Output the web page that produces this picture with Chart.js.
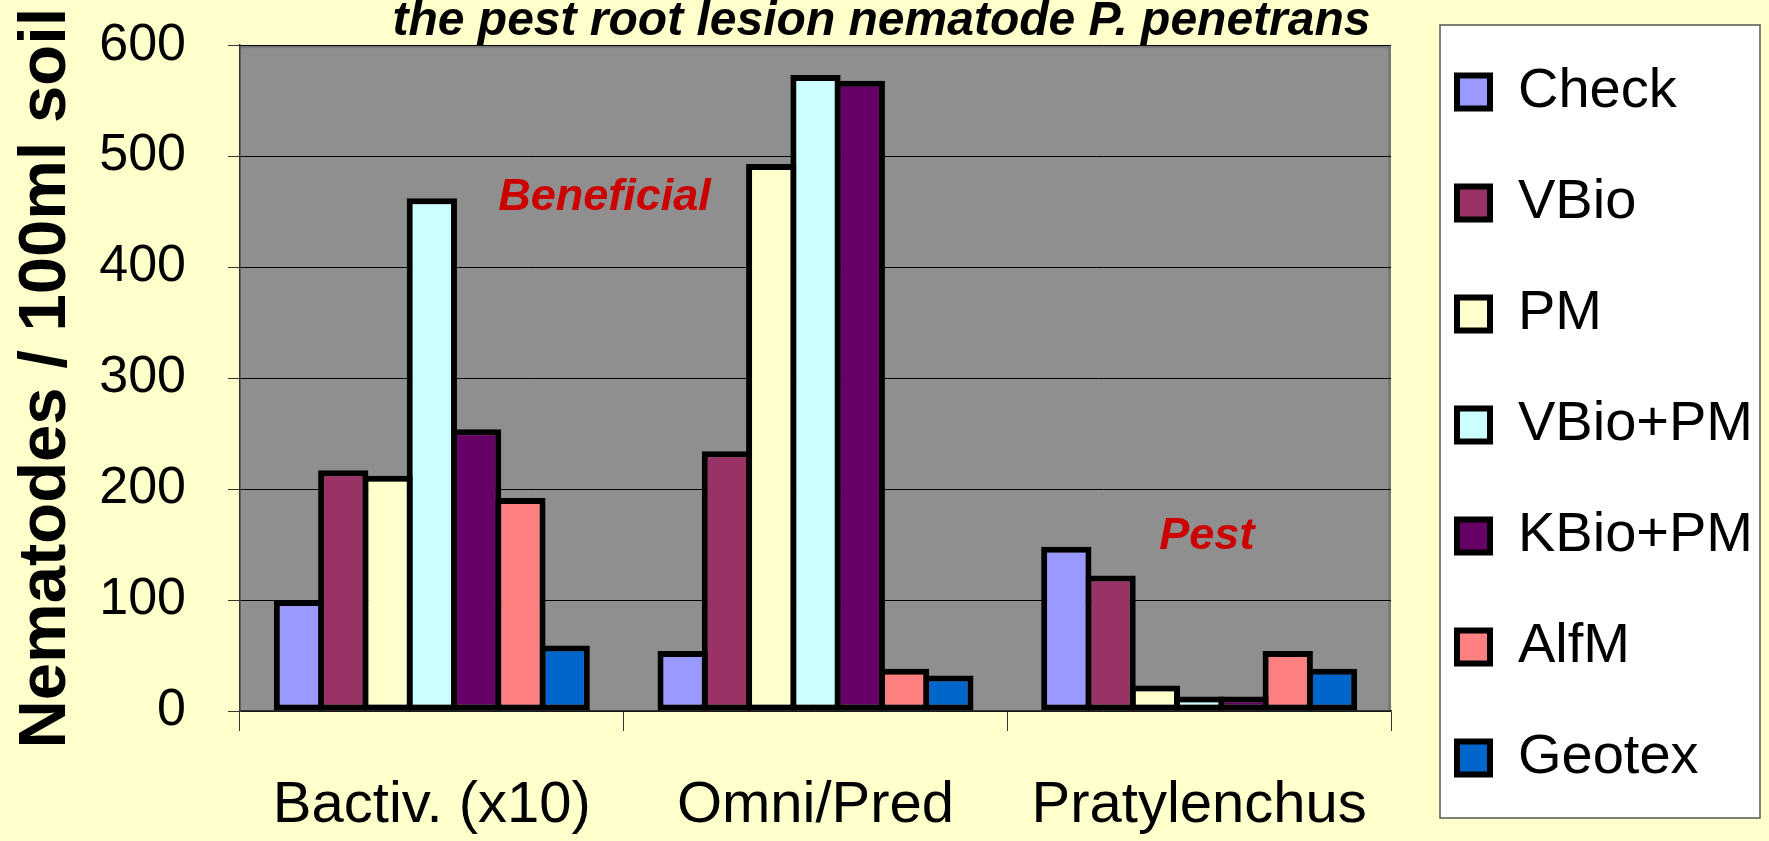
<!DOCTYPE html>
<html>
<head>
<meta charset="utf-8">
<title>Nematodes / 100ml soil</title>
<script src="https://cdn.jsdelivr.net/npm/chart.js@4.4.1/dist/chart.umd.min.js"></script>
<style>
  html, body { margin: 0; padding: 0; background: #FFFFCC; }
  #wrap { width: 1769px; height: 841px; position: relative; }
</style>
</head>
<body>
<div id="wrap"><canvas id="nematodeChart"></canvas></div>
<script>
// Categories along the x axis
const categories = ['Bactiv. (x10)', 'Omni/Pred', 'Pratylenchus'];

// Treatments, one series each
const treatments = ['Check', 'VBio', 'PM', 'VBio+PM', 'KBio+PM', 'AlfM', 'Geotex'];
const treatmentColors = ['#9999FF', '#993366', '#FFFFCC', '#CCFFFF', '#660066', '#FF8080', '#0066CC'];

// Nematodes / 100ml soil
const checkValues  = [100, 54, 148];
const vbioValues   = [217, 234, 122];
const pmValues     = [212, 493, 23];
const vbioPmValues = [462, 573, 13];
const kbioPmValues = [254, 568, 13];
const alfmValues   = [192, 38, 54];
const geotexValues = [59, 32, 38];

const seriesValues = [checkValues, vbioValues, pmValues, vbioPmValues, kbioPmValues, alfmValues, geotexValues];

// y axis tick labels
const yTicks = [0, 100, 200, 300, 400, 500, 600];

// Notes written inside the plot (category position, y value)
const noteTexts = ['Beneficial', 'Pest'];
const noteCategoryPos = [0.45, 2.02];
const noteValues = [463, 157];

const sansFont = '"Liberation Sans", Arial, sans-serif';

// grey plot area and white legend box
const backdrop = {
    id: 'backdrop',
    beforeDraw(chart) {
        const { ctx, chartArea: a, legend } = chart;
        ctx.save();
        ctx.fillStyle = '#FFFFCC';
        ctx.fillRect(0, 0, chart.width, chart.height);

        ctx.fillStyle = '#8F8F8F';
        ctx.fillRect(a.left, a.top, a.right - a.left, a.bottom - a.top);
        ctx.strokeStyle = '#787878';
        ctx.lineWidth = 3;
        ctx.beginPath();
        ctx.moveTo(a.left, a.top + 1.5);
        ctx.lineTo(a.right - 1.5, a.top + 1.5);
        ctx.lineTo(a.right - 1.5, a.bottom);
        ctx.stroke();

        // legend frame
        const lx = legend.left + 38;
        const ly = 25;
        const lw = chart.width - 9 - lx;
        const lh = chart.height - 23 - ly;
        ctx.fillStyle = '#FFFFFF';
        ctx.fillRect(lx, ly, lw, lh);
        ctx.strokeStyle = '#555555';
        ctx.lineWidth = 1.5;
        ctx.strokeRect(lx, ly, lw, lh);
        ctx.restore();
    }
};

// red "Beneficial" / "Pest" notes
const notes = {
    id: 'notes',
    afterDatasetsDraw(chart) {
        const { ctx, scales: { x, y } } = chart;
        ctx.save();
        ctx.font = 'italic bold 45px ' + sansFont;
        ctx.fillStyle = '#CC0000';
        ctx.textAlign = 'center';
        ctx.textBaseline = 'middle';
        noteTexts.forEach((t, i) => {
            ctx.fillText(t, x.getPixelForValue(noteCategoryPos[i]), y.getPixelForValue(noteValues[i]));
        });
        ctx.restore();
    }
};

const datasets = treatments.map((name, i) => ({
    label: name,
    data: seriesValues[i],
    backgroundColor: treatmentColors[i],
    borderColor: '#000000',
    borderWidth: 6,
    borderSkipped: false
}));

new Chart(document.getElementById('nematodeChart'), {
    type: 'bar',
    data: { labels: categories, datasets: datasets },
    plugins: [backdrop, notes],
    options: {
        responsive: true,
        maintainAspectRatio: false,
        animation: false,
        layout: { padding: { right: 6 } },
        // bars overlap by one border width so neighbours share a single black edge
        datasets: { bar: { categoryPercentage: 0.808, barPercentage: 1.135 } },
        plugins: {
            title: {
                display: true,
                text: 'the pest root lesion nematode P. penetrans',
                color: '#000000',
                font: { family: sansFont, size: 48, style: 'italic', weight: 'bold', lineHeight: 0.92 },
                padding: { top: 0, bottom: 1 }
            },
            legend: {
                position: 'right',
                align: 'center',
                maxWidth: 420,
                title: { display: true, text: '', padding: 4, font: { size: 1, lineHeight: 1 } },
                labels: {
                    color: '#000000',
                    font: { family: sansFont, size: 56 },
                    boxWidth: 33,
                    boxHeight: 33,
                    padding: 55
                }
            },
            tooltip: { enabled: false }
        },
        scales: {
            x: {
                grid: { offset: true, drawOnChartArea: false, color: '#333333', tickLength: 20 },
                border: { color: '#333333', width: 1.5 },
                ticks: { color: '#000000', font: { family: sansFont, size: 58 }, padding: 40, maxRotation: 0 },
                afterFit(s) { s.height = 130; }
            },
            y: {
                min: 0,
                max: 600,
                afterBuildTicks(s) { s.ticks = yTicks.map(v => ({ value: v })); },
                ticks: { color: '#000000', font: { family: sansFont, size: 52 }, padding: 42 },
                grid: { color: '#000000', lineWidth: 1, tickLength: 12, tickColor: '#333333' },
                border: { color: '#333333', width: 1.5 },
                title: {
                    display: true,
                    text: 'Nematodes / 100ml soil',
                    color: '#000000',
                    font: { family: sansFont, size: 67, weight: 'bold' },
                    padding: { top: 6, bottom: 0 }
                },
                afterFit(s) {
                    s.width = 240;
                    s.paddingTop = 20;
                    s.paddingBottom = 20;
                }
            },
            // empty right-hand axis, only keeps a gap between plot and legend
            gap: {
                axis: 'y',
                position: 'right',
                grid: { display: false },
                border: { display: false },
                ticks: { display: false },
                afterFit(s) { s.width = 11; }
            }
        }
    }
});
</script>
</body>
</html>
